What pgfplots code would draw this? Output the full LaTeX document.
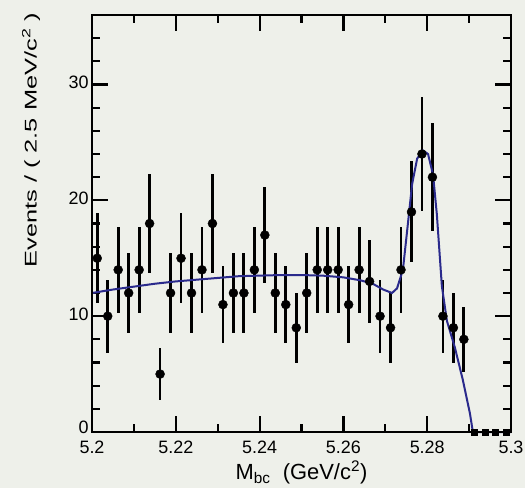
\documentclass[border=0pt]{standalone}
\usepackage{pgfplots}
\pgfplotsset{compat=1.18}
\usepackage{fontspec}
\setmainfont{Liberation Sans}
\definecolor{bg}{RGB}{238,240,234}
\definecolor{fitblue}{RGB}{42,42,140}

\begin{document}
\begin{tikzpicture}
\fill[bg] (-92bp,-56bp) rectangle (433bp,432bp);
\useasboundingbox (-92bp,-56bp) rectangle (433bp,432bp);
\begin{axis}[
  at={(0,0)}, anchor=south west,
  scale only axis, width=419bp, height=417bp,
  xmin=5.2, xmax=5.3, ymin=0, ymax=36,
  clip=false,
  xtick={5.2,5.22,5.24,5.26,5.28,5.3},
  xticklabels={5.2,5.22,5.24,5.26,5.28,5.3},
  minor xtick={5.21,5.23,5.25,5.27,5.29},
  ytick={0,10,20,30},
  yticklabels={\raisebox{6bp}{0},10,20,30},
  minor ytick={2,4,6,8,12,14,16,18,22,24,26,28,32,34},
  tick align=inside,
  major tick length=16bp, minor tick length=8bp,
  every tick/.style={black, line width=2.2bp},
  /pgf/number format/assume math mode=true,
  ticklabel style={font=\fontsize{18}{18}\selectfont},
  xticklabel style={yshift=-5bp},
  yticklabel style={yshift=2bp},
  xlabel={M\textsubscript{bc}\ \ (GeV/c\textsuperscript{2})},
  xlabel style={font=\fontsize{22}{22}\selectfont, at={(axis description cs:0.5,0)}, anchor=base, yshift=-47bp},
  ylabel={\scalebox{1.5}[1]{Events / ( 2.5 MeV/c\textsuperscript{2} )}},
  ylabel style={font=\fontsize{17}{17}\selectfont, at={(axis description cs:-0.132,0.70)}, anchor=base},
]
\addplot[only marks, mark=*, mark size=4.5bp, black,
  error bars/.cd, y dir=both, y explicit, error mark=none,
  error bar style={line width=2.8bp}]
coordinates {
(5.20125,15) +- (0,3.87)
(5.20375,10) +- (0,3.16)
(5.20625,14) +- (0,3.74)
(5.20875,12) +- (0,3.46)
(5.21125,14) +- (0,3.74)
(5.21375,18) +- (0,4.24)
(5.21625,5) +- (0,2.24)
(5.21875,12) +- (0,3.46)
(5.22125,15) +- (0,3.87)
(5.22375,12) +- (0,3.46)
(5.22625,14) +- (0,3.74)
(5.22875,18) +- (0,4.24)
(5.23125,11) +- (0,3.32)
(5.23375,12) +- (0,3.46)
(5.23625,12) +- (0,3.46)
(5.23875,14) +- (0,3.74)
(5.24125,17) +- (0,4.12)
(5.24375,12) +- (0,3.46)
(5.24625,11) +- (0,3.32)
(5.24875,9) +- (0,3.00)
(5.25125,12) +- (0,3.46)
(5.25375,14) +- (0,3.74)
(5.25625,14) +- (0,3.74)
(5.25875,14) +- (0,3.74)
(5.26125,11) +- (0,3.32)
(5.26375,14) +- (0,3.74)
(5.26625,13) +- (0,3.61)
(5.26875,10) +- (0,3.16)
(5.27125,9) +- (0,3.00)
(5.27375,14) +- (0,3.74)
(5.27625,19) +- (0,4.36)
(5.27875,24) +- (0,4.90)
(5.28125,22) +- (0,4.69)
(5.28375,10) +- (0,3.16)
(5.28625,9) +- (0,3.00)
(5.28875,8) +- (0,2.83)
};
\addplot[only marks, mark=square*, mark size=3bp, black]
coordinates {(5.29125,0) (5.29375,0) (5.29625,0) (5.29875,0)};
\addplot[fitblue, line width=2bp]
coordinates {
(5.200,12.0) (5.205,12.3) (5.210,12.55) (5.215,12.8) (5.220,13.0)
(5.225,13.15) (5.230,13.3) (5.235,13.45) (5.240,13.5) (5.245,13.55)
(5.250,13.55) (5.255,13.5) (5.260,13.35) (5.264,13.1) (5.267,12.8)
(5.2695,12.3) (5.2716,12.0) (5.2728,12.4) (5.2742,14.0) (5.2754,18.0)
(5.2764,21.4) (5.2776,23.6) (5.2790,24.3) (5.2802,24.0) (5.2814,22.2)
(5.2823,18.8) (5.2835,12.6) (5.2847,9.6) (5.2866,7.3) (5.2885,4.5)
(5.2902,1.6) (5.2909,0) (5.3,0)
};
\draw[line width=2.8bp] (rel axis cs:0,0) rectangle (rel axis cs:1,1);
\end{axis}
\end{tikzpicture}
\end{document}
